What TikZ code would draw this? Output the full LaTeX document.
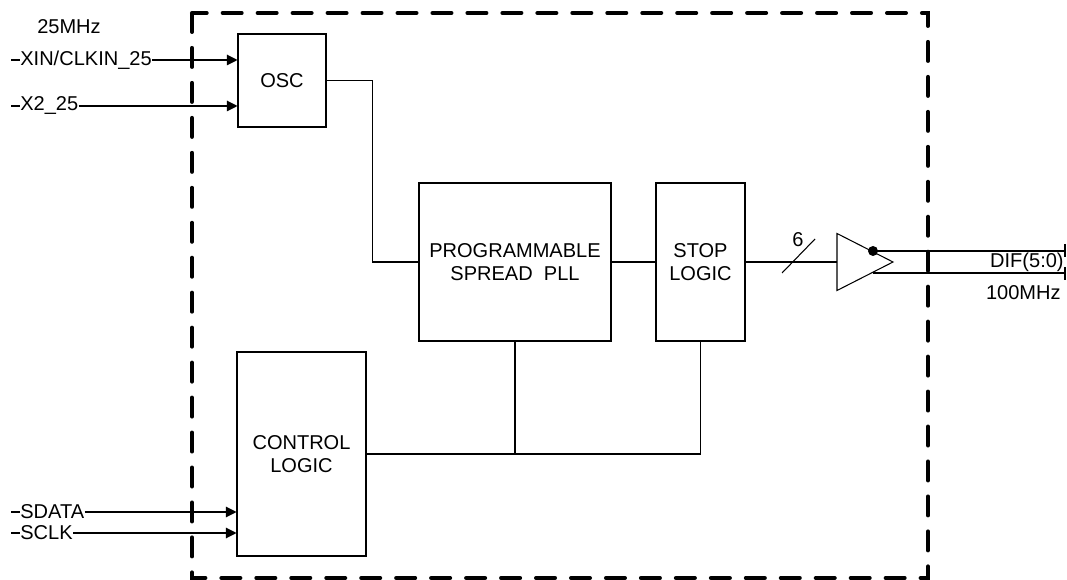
\documentclass[tikz,border=0pt]{standalone}
\usepackage{fontspec}
\setmainfont{Liberation Sans}
\usepackage{tikz}
\usetikzlibrary{arrows.meta}
\tikzset{%
  blk/.style={draw, line width=0.6pt, text centered, align=center, inner sep=0pt, font=\fontsize{11.4}{13.1}\selectfont},%
  pin/.style={anchor=west, inner sep=0pt, font=\fontsize{11.4}{13.1}\selectfont},%
  wire/.style={line width=0.6pt},%
  inarrow/.style={wire, -{Triangle[length=2.1mm, width=2.1mm]}},%
  frame/.style={line width=2.3pt, dash pattern=on 10.8pt off 9.1pt, line cap=round}%
}

\begin{document}
\begin{tikzpicture}[x=0.02cm, y=-0.02cm]%
\useasboundingbox (0,0) rectangle (1067,580);%
\draw[frame] (192,13) rectangle (928,578);%
% blocks
\node[blk, minimum width=1.76cm, minimum height=1.86cm] (osc) at (282,80.5) {OSC};%
\node[blk, minimum width=3.84cm, minimum height=3.16cm] (pll) at (515,262) {PROGRAMMABLE\\SPREAD~~PLL};%
\node[blk, minimum width=1.78cm, minimum height=3.16cm] (stop) at (700.5,262) {STOP\\LOGIC};%
\node[blk, minimum width=2.58cm, minimum height=4.08cm] (ctrl) at (301.5,454) {CONTROL\\LOGIC};%
% inputs
\node[pin, anchor=center] (fin) at (69,27) {25MHz};%
\node[pin] (xin) at (20,60) {XIN/CLKIN\_25};%
\node[pin] (xtwo) at (20,106) {X2\_25};%
\node[pin] (sdata) at (20,512) {SDATA};%
\node[pin] (sclk) at (20,533) {SCLK};%
\coordinate (xinpin) at (11,60);%
\coordinate (xtwopin) at (11,106);%
\coordinate (sdatapin) at (11,512);%
\coordinate (sclkpin) at (11,533);%
\draw[wire] (xinpin) -- (xin.west);%
\draw[wire] (xtwopin) -- (xtwo.west);%
\draw[wire] (sdatapin) -- (sdata.west);%
\draw[wire] (sclkpin) -- (sclk.west);%
\draw[inarrow] (xin.east) -- (xin.east -| osc.west);%
\draw[inarrow] (xtwo.east) -- (xtwo.east -| osc.west);%
\draw[inarrow] (sdata.east) -- (sdata.east -| ctrl.west);%
\draw[inarrow] (sclk.east) -- (sclk.east -| ctrl.west);%
% internal wiring
\draw[wire] (osc.east) -- ++(46,0) |- (pll.west);%
\draw[wire] (pll.east) -- (stop.west);%
\draw[wire] (ctrl.east) -- (ctrl.east -| stop.south) -- (stop.south);%
\draw[wire] (pll.south) -- (pll.south |- ctrl.east);%
% output buffer
\coordinate (bufin) at (837,262);%
\coordinate (bus) at (798,256);%
\draw[wire] (stop.east) -- (bufin);%
\draw[wire] (bus) ++(-16,17) -- ++(33,-34);%
\node[font=\fontsize{11.4}{13.1}\selectfont] (width) at (798,240) {6};%
\draw[wire] (bufin) -- ++(0,-28.5) -- ++(56,28.5) -- ++(-56,28.5) -- cycle;%
\coordinate (difp) at (873,251);%
\coordinate (difn) at (873,273);%
\coordinate (difpend) at (1065,251);%
\coordinate (difnend) at (1065,273);%
\draw[wire] (difp) -- (difpend);%
\draw[wire] (difn) -- (difnend);%
\fill (difp) circle[radius=0.1cm];%
\draw[line width=1.3pt] (difpend) ++(0,-7) -- ++(0,13);%
\draw[line width=1.3pt] (difnend) ++(0,-6) -- ++(0,13);%
\node[pin, anchor=east] (dif) at (1064,262) {DIF(5:0)};%
\node[pin, anchor=east] (fout) at (1061,293) {100MHz};%
\end{tikzpicture}
\end{document}
